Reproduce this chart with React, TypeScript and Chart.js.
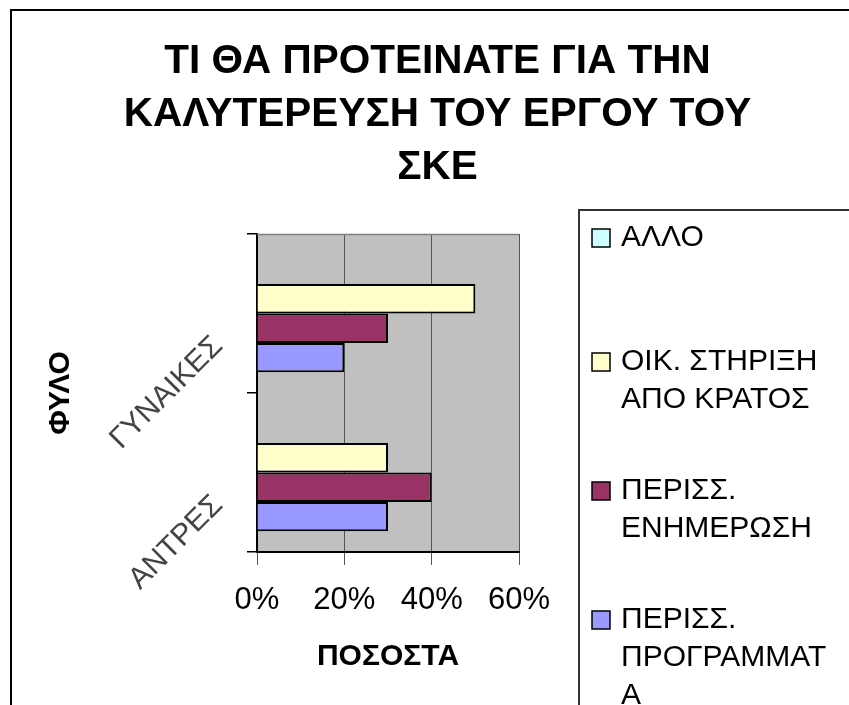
import React, { useEffect, useRef } from "react";
import { Chart, registerables } from "chart.js";

Chart.register(...registerables);

const titleLines = ["ΤΙ ΘΑ ΠΡΟΤΕΙΝΑΤΕ ΓΙΑ ΤΗΝ", "ΚΑΛΥΤΕΡΕΥΣΗ ΤΟΥ ΕΡΓΟΥ ΤΟΥ", "ΣΚΕ"];
const categories = ["ΓΥΝΑΙΚΕΣ", "ΑΝΤΡΕΣ"];
const seriesNames = ["ΑΛΛΟ", "ΟΙΚ. ΣΤΗΡΙΞΗ ΑΠΟ ΚΡΑΤΟΣ", "ΠΕΡΙΣΣ. ΕΝΗΜΕΡΩΣΗ", "ΠΕΡΙΣΣ. ΠΡΟΓΡΑΜΜΑΤΑ"];
const legendLines = [["ΑΛΛΟ"], ["ΟΙΚ. ΣΤΗΡΙΞΗ", "ΑΠΟ ΚΡΑΤΟΣ"], ["ΠΕΡΙΣΣ.", "ΕΝΗΜΕΡΩΣΗ"], ["ΠΕΡΙΣΣ.", "ΠΡΟΓΡΑΜΜΑΤ", "Α"]];
const alloValues = [0, 0];
const oikStirixiValues = [50, 30];
const enimerosiValues = [30, 40];
const programmataValues = [20, 30];
const xTickValues = [0, 20, 40, 60];
const xTitle = "ΠΟΣΟΣΤΑ";
const yTitle = "ΦΥΛΟ";
const seriesColors = ["#CCFFFF", "#FFFFCC", "#993366", "#9999FF"];

const FONT = "'Liberation Sans', Arial, Helvetica, sans-serif";
const legendRowY = [238, 362, 491, 620];
const legendLineH = 38;

const decor = {
  id: "decor",
  beforeDraw(chart: any) {
    const { ctx, chartArea: a, width, height } = chart;
    ctx.save();
    ctx.fillStyle = "#ffffff";
    ctx.fillRect(0, 0, width, height);
    ctx.fillStyle = "#C0C0C0";
    ctx.fillRect(a.left, a.top, a.right - a.left, a.bottom - a.top);
    ctx.restore();
  },
  afterDraw(chart: any) {
    const { ctx, chartArea: a, width, height } = chart;
    ctx.save();
    // plot top border
    ctx.strokeStyle = "#808080";
    ctx.lineWidth = 1.5;
    ctx.beginPath();
    ctx.moveTo(a.left, a.top + 0.5);
    ctx.lineTo(a.right, a.top + 0.5);
    ctx.stroke();
    // outer frame
    ctx.strokeStyle = "#000";
    ctx.lineWidth = 2;
    ctx.beginPath();
    ctx.moveTo(11, height + 5);
    ctx.lineTo(11, 10);
    ctx.lineTo(width + 5, 10);
    ctx.stroke();
    // title
    ctx.fillStyle = "#000";
    ctx.font = `bold 40.5px ${FONT}`;
    ctx.textAlign = "center";
    ctx.textBaseline = "middle";
    titleLines.forEach((t, i) => ctx.fillText(t, 437.5, 62 + i * 53));
    // category labels (rotated)
    const ys = chart.scales.y;
    ctx.font = `30px ${FONT}`;
    ctx.fillStyle = "#444";
    ctx.textAlign = "right";
    ctx.textBaseline = "middle";
    categories.forEach((c, i) => {
      const py = ys.getPixelForValue(i);
      ctx.save();
      ctx.translate(a.left - 39, py + 28);
      ctx.rotate(-Math.PI / 4);
      ctx.fillText(c, 0, 0);
      ctx.restore();
    });
    // legend box
    ctx.strokeStyle = "#333";
    ctx.lineWidth = 2;
    ctx.beginPath();
    ctx.moveTo(579, height + 5);
    ctx.lineTo(579, 210);
    ctx.lineTo(width + 5, 210);
    ctx.stroke();
    ctx.font = `30px ${FONT}`;
    ctx.textAlign = "left";
    chart.data.datasets.forEach((ds: any, i: number) => {
      const y0 = legendRowY[i];
      ctx.fillStyle = ds.backgroundColor;
      ctx.fillRect(592, y0 - 9, 18, 18);
      ctx.strokeStyle = "#000";
      ctx.lineWidth = 1.5;
      ctx.strokeRect(592, y0 - 9, 18, 18);
      ctx.fillStyle = "#000";
      legendLines[i].forEach((ln, k) => ctx.fillText(ln, 621, y0 + k * legendLineH));
    });
    ctx.restore();
  },
};

export default function App() {
  const ref = useRef<HTMLCanvasElement | null>(null);
  useEffect(() => {
    if (!ref.current) return;
    const valueSets = [alloValues, oikStirixiValues, enimerosiValues, programmataValues];
    const chart = new Chart(ref.current, {
      type: "bar",
      data: {
        labels: categories,
        datasets: seriesNames.map((name, i) => ({
          label: name,
          data: valueSets[i],
          backgroundColor: seriesColors[i],
          borderColor: "#000",
          borderWidth: 2,
          barPercentage: 1,
          categoryPercentage: 0.74,
        })),
      },
      options: {
        indexAxis: "y",
        responsive: false,
        animation: false,
        devicePixelRatio: 1,
        events: [],
        layout: { padding: { top: 234, right: 330, left: 0, bottom: 0 } },
        plugins: { legend: { display: false }, tooltip: { enabled: false }, title: { display: false } },
        scales: {
          x: {
            min: 0,
            max: 60,
            afterFit: (s: any) => { s.height = 153; },
            afterBuildTicks: (s: any) => { s.ticks = xTickValues.map((v) => ({ value: v })); },
            ticks: {
              color: "#000",
              font: { family: FONT, size: 31 },
              padding: 17,
              maxRotation: 0,
              callback: (v: any) => `${v}%`,
            },
            grid: { color: "#555", lineWidth: 1, tickLength: 13 },
            border: { color: "#000", width: 2 },
            title: {
              display: true,
              text: xTitle,
              color: "#000",
              font: { family: FONT, size: 30, weight: "bold" },
              padding: { top: 0, bottom: 30 },
            },
          },
          y: {
            offset: true,
            afterFit: (s: any) => { s.width = 257; },
            ticks: { display: false },
            grid: { offset: true, drawOnChartArea: false, tickLength: 10, color: "#000", lineWidth: 1.5 },
            border: { color: "#000", width: 2 },
            title: {
              display: true,
              text: yTitle,
              color: "#000",
              font: { family: FONT, size: 30, weight: "bold" },
              padding: { top: 43, bottom: 0 },
            },
          },
        },
      },
      plugins: [decor],
    } as any);
    return () => chart.destroy();
  }, []);
  return (
    <div style={{ position: "absolute", left: 0, top: 0, width: 849, height: 705, overflow: "hidden" }}>
      <canvas ref={ref} width={849} height={705} style={{ display: "block" }} />
    </div>
  );
}
